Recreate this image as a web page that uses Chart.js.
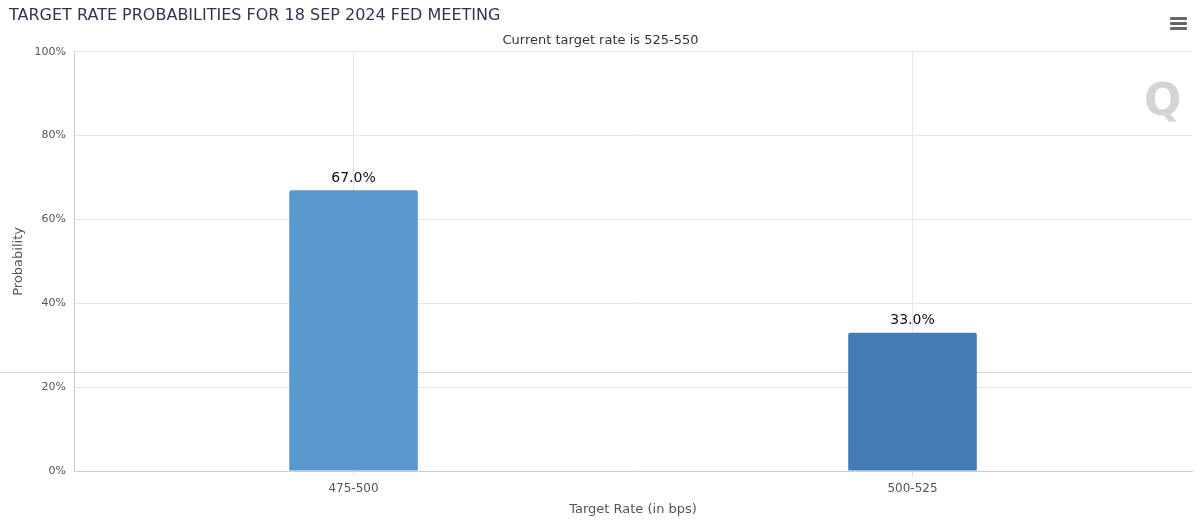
<!DOCTYPE html>
<html>
<head>
<meta charset="utf-8">
<script src="https://cdn.jsdelivr.net/npm/chart.js@4/dist/chart.umd.min.js"></script>
<style>
  html, body { margin: 0; padding: 0; background: #fff; }
  #wrap { position: relative; width: 1200px; height: 521px; }
  #menu { position: absolute; left: 1170px; top: 17px; width: 17px; }
  #menu div { height: 3px; background: #666; margin-bottom: 2px; border-radius: 1px; }
  #wm { position: absolute; left: 1144px; top: 74px; font: bold 44px "DejaVu Sans", sans-serif; color: #d4d4d4; }
</style>
</head>
<body>
<div id="wrap">
  <canvas id="rateChart" width="1200" height="521"></canvas>
  <div id="wm">Q</div>
  <div id="menu"><div></div><div></div><div></div></div>
</div>
<script>
const categories = ['475-500', '500-525'];
const probabilities = [67.0, 33.0];
const yTicks = [0, 20, 40, 60, 80, 100];

const barColors = ['#5a98cd', '#437cb4'];
const fontFamily = '"DejaVu Sans", "Lucida Grande", sans-serif';

// faint horizontal rule seen in the screenshot, behind the bars
const backRule = {
    id: 'backRule',
    beforeDatasetsDraw(chart) {
        const ctx = chart.ctx;
        ctx.save();
        ctx.strokeStyle = '#d6d6d6';
        ctx.lineWidth = 1;
        ctx.beginPath();
        ctx.moveTo(0, 372.5);
        ctx.lineTo(chart.chartArea.right, 372.5);
        ctx.stroke();
        ctx.restore();
    }
};

// Value labels on top of the bars
const barLabels = {
    id: 'barLabels',
    afterDatasetsDraw(chart) {
        const ctx = chart.ctx;
        const meta = chart.getDatasetMeta(0);
        ctx.save();
        ctx.font = '14px ' + fontFamily;
        ctx.fillStyle = '#111';
        ctx.textAlign = 'center';
        ctx.textBaseline = 'bottom';
        meta.data.forEach((bar, i) => {
            ctx.fillText(probabilities[i].toFixed(1) + '%', bar.x, bar.y - 5);
        });
        ctx.restore();
    }
};

const ctx = document.getElementById('rateChart');
new Chart(ctx, {
    type: 'bar',
    data: {
        labels: categories,
        datasets: [{
            label: 'Probability',
            data: probabilities,
            backgroundColor: barColors,
            borderRadius: { topLeft: 2, topRight: 2 },
            borderSkipped: 'bottom',
            categoryPercentage: 1,
            barPercentage: 0.23
        }]
    },
    options: {
        responsive: false,
        animation: false,
        layout: { padding: { left: 9, right: 8, top: 0, bottom: 4 } },
        plugins: {
            legend: { display: false },
            tooltip: { enabled: false },
            title: {
                display: true,
                text: 'TARGET RATE PROBABILITIES FOR 18 SEP 2024 FED MEETING',
                align: 'start',
                color: '#333350',
                font: { family: fontFamily, size: 16, weight: 'normal' },
                padding: { top: 6, bottom: 8 }
            },
            subtitle: {
                display: true,
                text: 'Current target rate is 525-550',
                color: '#333',
                font: { family: fontFamily, size: 13 },
                padding: { top: 0, bottom: 3 }
            }
        },
        scales: {
            x: {
                grid: { offset: false, color: '#e6e6e6', tickLength: 6 },
                border: { color: '#c8ccd4' },
                ticks: { color: '#555', font: { family: fontFamily, size: 12 }, padding: 5 },
                title: {
                    display: true,
                    text: 'Target Rate (in bps)',
                    color: '#555',
                    font: { family: fontFamily, size: 13 },
                    padding: { top: 0, bottom: 0 }
                }
            },
            y: {
                min: 0,
                max: 100,
                afterBuildTicks(scale) {
                    scale.ticks = yTicks.map(v => ({ value: v }));
                },
                grid: { color: '#e6e6e6', drawTicks: false },
                border: { color: '#cccccc' },
                ticks: {
                    color: '#555',
                    font: { family: fontFamily, size: 11 },
                    padding: 8,
                    callback: v => v + '%'
                },
                title: {
                    display: true,
                    text: 'Probability',
                    color: '#555',
                    font: { family: fontFamily, size: 13 },
                    padding: { top: 2, bottom: 0 }
                }
            }
        }
    },
    plugins: [backRule, barLabels]
});
</script>
</body>
</html>
